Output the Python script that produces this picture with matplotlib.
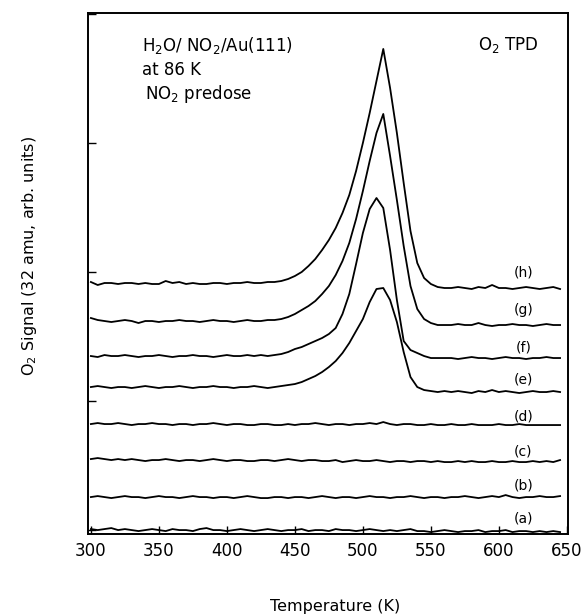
import numpy as np
import matplotlib
matplotlib.use("Agg")
import matplotlib.pyplot as plt

plt.rcParams["font.family"] = ["DejaVu Sans"]
plt.rcParams["mathtext.default"] = "regular"

# ================= DATA =================

# temperature grid, K
TEMPS = np.arange(300, 650, 5)

LABELS = ["(a)", "(b)", "(c)", "(d)", "(e)", "(f)", "(g)", "(h)"]

# baseline offset of each trace (arb. units)
OFFSETS = [0, 33, 70, 106, 143, 174, 209, 247]

# signal above the baseline, one value per grid point (300..645 K)
SIG_A = [1, 0, 1, 2, 0, 1, 0, -1, 0, 1,
         0, -1, 1, 0, 0, -1, 1, 2, 0, 0,
         -1, 0, 1, 0, -1, 0, 1, 0, -1, 0,
         0, 1, -1, 0, 0, -1, 1, 0, 0, -1,
         0, 1, 0, -1, 0, -1, 0, 1, -1, -1,
         -2, -1, 0, -1, -2, -1, -1, 0, -2, -1,
         -1, 0, -2, -1, -1, -2, -1, -2, -1, -2]
SIG_B = [0, 1, 0, -1, 0, 1, 0, 0, -1, 0,
         1, 0, 0, -1, 0, 1, 0, 0, -1, 0,
         0, -1, 0, 1, 0, -1, -1, 0, 0, -1,
         0, 0, -1, 0, 1, 0, -1, 0, 0, -1,
         0, 1, 0, 0, -1, 0, 0, 1, 0, -1,
         0, 0, -1, 0, 0, 1, 0, -1, 0, 1,
         0, 2, 0, -1, 0, 0, 1, 0, 0, 1]
SIG_C = [1, 2, 1, 0, 1, 0, 1, 0, -1, 0,
         0, 1, 0, -1, 0, 0, -1, 0, 1, 0,
         -1, 0, 0, -1, -1, 0, 0, -1, 0, 1,
         0, -1, 0, 0, -1, -1, 0, -2, -1, 0,
         -1, -1, 0, -1, -2, -1, -1, -2, -1, -1,
         -2, -1, -2, -2, -1, -2, -1, -2, -2, -1,
         -2, -2, -1, -2, -2, -1, -2, -1, -2, 0]
SIG_D = [0, 1, 0, 0, 1, 0, -1, 0, 0, 1,
         0, 0, -1, 0, 0, -1, 0, 0, 1, 0,
         -1, 0, 0, -1, -1, 0, 0, -1, -1, 0,
         -1, 0, 0, 1, 0, -1, 0, 0, -1, 0,
         0, 1, 0, 2, 0, -1, 0, 0, -1, -1,
         0, -1, -1, 0, -1, -1, 0, -1, -1, -1,
         0, -1, -1, 0, -1, -1, -1, -1, -1, -1]
SIG_E = [0, 1, 0, -1, 0, 0, -1, 0, 1, 0,
         -1, 0, 0, 1, 0, -1, 0, 0, 1, 0,
         0, -1, 0, 0, 1, 0, -1, 0,
         1, 2, 3, 5, 8, 11, 15, 20, 26, 34, 44, 56, 68, 85, 98, 99,
         87, 65, 35, 10, 0, -3, -4, -5, -4,
         -5, -4, -5, -6, -4, -5, -3, -5, -4, -5, -6, -5, -4, -5, -5, -4, -5]
SIG_F = [0, -1, 1, 0, 0, 1, 0, -1, 0, 0,
         1, 0, -1, 0, 0, 1, 0, 0, -1, 0,
         1, 0, 0, 1, 0, 1, 0, 1,
         2, 4, 7, 9, 12, 15, 18, 22, 28, 42, 62, 92, 123, 147, 158, 148,
         106, 56, 15, 6, 3, 0, -2, -2, -2,
         -2, -3, -2, -1, -2, -2, -3, -2, -1, -2, -2, -3, -2, -2, -1, -2, -2]
SIG_G = [3, 1, 0, -1, 0, 1, 0, -2, 0, 0,
         -1, 0, 0, 1, 0, 0, -1, 0, 1, 0,
         0, -1, 0, 1, 0, 0, 1, 1,
         2, 4, 7, 11, 15, 20, 27, 35, 46, 60, 78, 102, 130, 160, 188, 207,
         165, 121, 75, 35, 12, 2, -2, -4, -4,
         -4, -3, -4, -4, -2, -4, -5, -4, -4, -3, -4, -4, -5, -4, -3, -4, -4]
SIG_H = [1, -2, 0, 0, -1, 0, 0, -1, 0, -1,
         -1, 2, 0, 1, -1, 0, -1, -1, 0, 0,
         -1, 0, 0, 1, 0, 0, 1, 1,
         2, 4, 7, 11, 17, 24, 33, 43, 55, 70, 88, 112, 140, 170, 202, 234,
         195, 150, 100, 52, 20, 5, -1, -4, -5,
         -5, -4, -5, -6, -4, -5, -2, -5, -5, -6, -5, -4, -5, -6, -5, -4, -6]

SIGNALS = [SIG_A, SIG_B, SIG_C, SIG_D, SIG_E, SIG_F, SIG_G, SIG_H]

# where the (a)..(h) tags sit
LABEL_T = 618
LABEL_Y = [12, 45, 79, 114, 151, 183, 220, 258]

# ===============================================================


def main():
    fig = plt.figure(figsize=(5.84, 6.16), dpi=100)
    ax = fig.add_axes([0.151, 0.133, 0.822, 0.846])

    for off, sig in zip(OFFSETS, SIGNALS):
        ax.plot(TEMPS, off + np.array(sig), color="black", lw=1.3)

    for lab, y in zip(LABELS, LABEL_Y):
        ax.text(LABEL_T, y, lab, fontsize=10, ha="center", va="center")

    ax.set_xlim(298, 651)
    ax.set_ylim(-4, 517)
    ax.set_xticks([300, 350, 400, 450, 500, 550, 600, 650])
    ax.set_yticks([0, 129, 258, 387, 516])
    ax.set_yticklabels([])
    ax.tick_params(axis="both", direction="in", length=6, width=1.0,
                   labelsize=12, pad=6)
    for sp in ax.spines.values():
        sp.set_linewidth(1.4)

    ax.text(0.1125, 0.938, r"H$_2$O/ NO$_2$/Au(111)", transform=ax.transAxes,
            fontsize=12, va="center")
    ax.text(0.1125, 0.89, "at 86 K", transform=ax.transAxes,
            fontsize=12, va="center")
    ax.text(0.119, 0.844, r"NO$_2$ predose", transform=ax.transAxes,
            fontsize=12, va="center")
    ax.text(0.8125, 0.938, r"O$_2$ TPD", transform=ax.transAxes,
            fontsize=12, va="center")

    fig.text(0.05, 0.585, "O$_2$ Signal (32 amu, arb. units)", rotation=90,
             fontsize=11.5, ha="center", va="center")
    fig.text(0.574, 0.015, "Temperature (K)", fontsize=11.5,
             ha="center", va="center")

    fig.savefig("out.png", dpi=100)


if __name__ == "__main__":
    main()
